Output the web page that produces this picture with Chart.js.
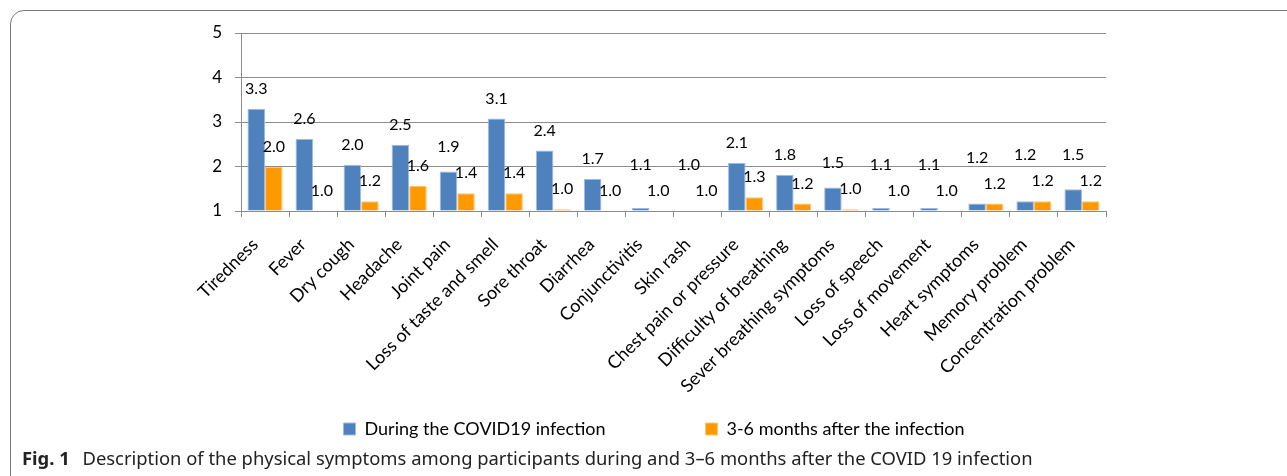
<!DOCTYPE html>
<html>
<head>
<meta charset="utf-8">
<script src="https://cdn.jsdelivr.net/npm/chart.js@4/dist/chart.umd.min.js"></script>
<style>
  body { margin: 0; background: #fff; width: 1287px; height: 476px; overflow: hidden; position: relative; }
  .frame { position: absolute; left: 10px; top: 10px; width: 1320px; height: 520px; border: 1px solid #7a7a7a; border-radius: 14px; box-sizing: border-box; }
  .chart { position: absolute; left: 0; top: 0; width: 1287px; height: 448px; }
  .caption { position: absolute; left: 22px; top: 445px; font: 18.4px "Noto Sans", sans-serif; color: #222; white-space: nowrap; }
  .caption b { margin-right: 8px; }
</style>
</head>
<body>
<div class="frame"></div>
<div class="chart"><canvas id="myChart"></canvas></div>
<div class="caption"><b>Fig. 1</b> Description of the physical symptoms among participants during and 3–6 months after the COVID 19 infection</div>
<script>
const symptoms = ['Tiredness', 'Fever', 'Dry cough', 'Headache', 'Joint pain', 'Loss of taste and smell',
  'Sore throat', 'Diarrhea', 'Conjunctivitis', 'Skin rash', 'Chest pain or pressure', 'Difficulty of breathing',
  'Sever breathing symptoms', 'Loss of speech', 'Loss of movement', 'Heart symptoms', 'Memory problem', 'Concentration problem']
const duringInfection = [3.30, 2.62, 2.04, 2.49, 1.89, 3.08, 2.36, 1.72, 1.07, 1.0, 2.08, 1.81, 1.53, 1.07, 1.07, 1.17, 1.22, 1.49]
const afterInfection = [1.99, 1.0, 1.22, 1.57, 1.40, 1.40, 1.04, 1.0, 1.0, 1.0, 1.31, 1.17, 1.04, 1.0, 1.0, 1.17, 1.22, 1.22]
const yTicks = [1, 2, 3, 4, 5]

const font = 'Lato'
const padLeft = 202

// value labels above each bar, the blue one is pushed up when it would hit the orange one
const barLabels = {
  id: 'barLabels',
  afterDatasetsDraw(chart) {
    const ctx = chart.ctx
    const during = chart.getDatasetMeta(0).data
    const after = chart.getDatasetMeta(1).data
    ctx.save()
    ctx.font = '16px ' + font
    ctx.fillStyle = '#000'
    ctx.textAlign = 'center'
    ctx.textBaseline = 'middle'
    after.forEach((bar, j) => {
      const yAfter = bar.y - 20
      let yDuring = during[j].y - 20
      if (yAfter - yDuring < 22) yDuring = yAfter - 26
      ctx.fillText(afterInfection[j].toFixed(1), bar.x, yAfter)
      ctx.fillText(duringInfection[j].toFixed(1), during[j].x, yDuring)
    })
    ctx.restore()
  }
}

const ctx = document.getElementById('myChart').getContext('2d')
const myChart = new Chart(ctx, {
  type: 'bar',
  data: {
    labels: symptoms,
    datasets: [{
      label: 'During the COVID19 infection',
      data: duringInfection,
      backgroundColor: '#4f81bd',
      borderColor: '#9dbbe2',
      borderWidth: 1,
      base: 1
    }, {
      label: '3-6 months after the infection',
      data: afterInfection,
      backgroundColor: '#ff9900',
      borderColor: '#ffc66e',
      borderWidth: 1,
      base: 1
    }]
  },
  options: {
    responsive: true,
    maintainAspectRatio: false,
    animation: false,
    categoryPercentage: 0.73,
    barPercentage: 1,
    layout: {
      padding: { top: 33, right: 181, left: padLeft, bottom: 0 }
    },
    plugins: {
      tooltip: { enabled: false },
      legend: {
        position: 'bottom',
        labels: {
          boxWidth: 12,
          boxHeight: 12,
          padding: 100,
          color: '#000',
          font: { family: font, size: 18 }
        }
      }
    },
    scales: {
      x: {
        afterFit(scale) {
          scale.height = 109
          // let the long rotated labels run past the axis box
          scale._computeLabelArea = () => null
        },
        grid: {
          offset: true,
          drawOnChartArea: false,
          tickLength: 6,
          color: '#8c8c8c'
        },
        border: { color: '#8c8c8c' },
        ticks: {
          autoSkip: false,
          minRotation: 45,
          maxRotation: 45,
          padding: 17,
          labelOffset: -10,
          color: '#000',
          font: { family: font, size: 18 }
        }
      },
      y: {
        min: 1,
        max: 5,
        afterFit(scale) {
          scale.width = 241 - padLeft
          scale._computeLabelArea = () => null
        },
        afterBuildTicks(scale) { scale.ticks = yTicks.map(v => ({ value: v })) },
        grid: { color: '#8c8c8c', tickLength: 6 },
        border: { color: '#8c8c8c' },
        ticks: {
          padding: 13,
          color: '#000',
          font: { family: font, size: 17 }
        }
      }
    }
  },
  plugins: [barLabels]
})
</script>
</body>
</html>
